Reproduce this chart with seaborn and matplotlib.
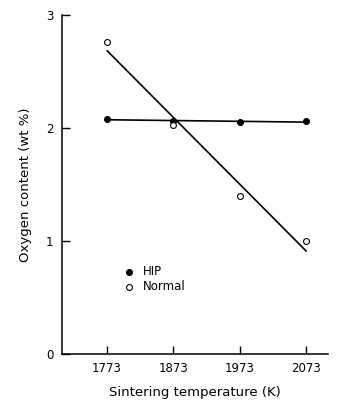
import numpy as np
import pandas as pd
import seaborn as sns
import matplotlib.pyplot as plt

# Data
temperatures = [1773, 1873, 1973, 2073]
hip_oxygen = [2.08, 2.06, 2.05, 2.06]
normal_oxygen = [2.76, 2.03, 1.40, 1.00]
y_ticks = [0, 1, 2, 3]

df = pd.DataFrame({
    'temp': temperatures * 2,
    'oxygen': hip_oxygen + normal_oxygen,
    'method': ['HIP'] * 4 + ['Normal'] * 4,
})
hip = df[df['method'] == 'HIP']
normal = df[df['method'] == 'Normal']

sns.set_style('ticks', {'axes.edgecolor': 'black', 'xtick.color': 'black',
                        'ytick.color': 'black', 'text.color': 'black',
                        'axes.labelcolor': 'black'})
plt.rcParams['font.family'] = ['DejaVu Sans']

fig = plt.figure(figsize=(3.52, 4.0), dpi=100)
ax = fig.add_axes([0.176, 0.115, 0.756, 0.8475])

# Fitted lines
sns.regplot(data=hip, x='temp', y='oxygen', scatter=False, ci=None, truncate=True,
            line_kws={'color': 'black', 'lw': 1.2}, ax=ax)
sns.regplot(data=normal, x='temp', y='oxygen', scatter=False, ci=None, truncate=True,
            line_kws={'color': 'black', 'lw': 1.2}, ax=ax)

# Data points
sns.scatterplot(data=hip, x='temp', y='oxygen', marker='o', s=18, color='black',
                edgecolor='black', linewidth=0.8, label='HIP', ax=ax, zorder=3)
sns.scatterplot(data=normal, x='temp', y='oxygen', marker='o', s=18, facecolor='white',
                edgecolor='black', linewidth=0.8, label='Normal', ax=ax, zorder=3)

ax.set_xlim(1705, 2106)
ax.set_ylim(0, 3)
ax.set_xticks(temperatures)
ax.set_yticks(y_ticks)
ax.tick_params(direction='in', length=6, width=1, labelsize=8.5, pad=6)
sns.despine(ax=ax)
for side in ['left', 'bottom']:
    ax.spines[side].set_linewidth(1.1)

ax.set_xlabel('Sintering temperature (K)', fontsize=9.5, labelpad=8)
ax.set_ylabel('Oxygen content (wt %)', fontsize=9.5, labelpad=10)

ax.legend(loc='upper left', bbox_to_anchor=(0.19, 0.275), frameon=False, fontsize=8.5,
          handletextpad=0.2, labelspacing=0.1, borderaxespad=0)

fig.savefig('out.png', dpi=100)
